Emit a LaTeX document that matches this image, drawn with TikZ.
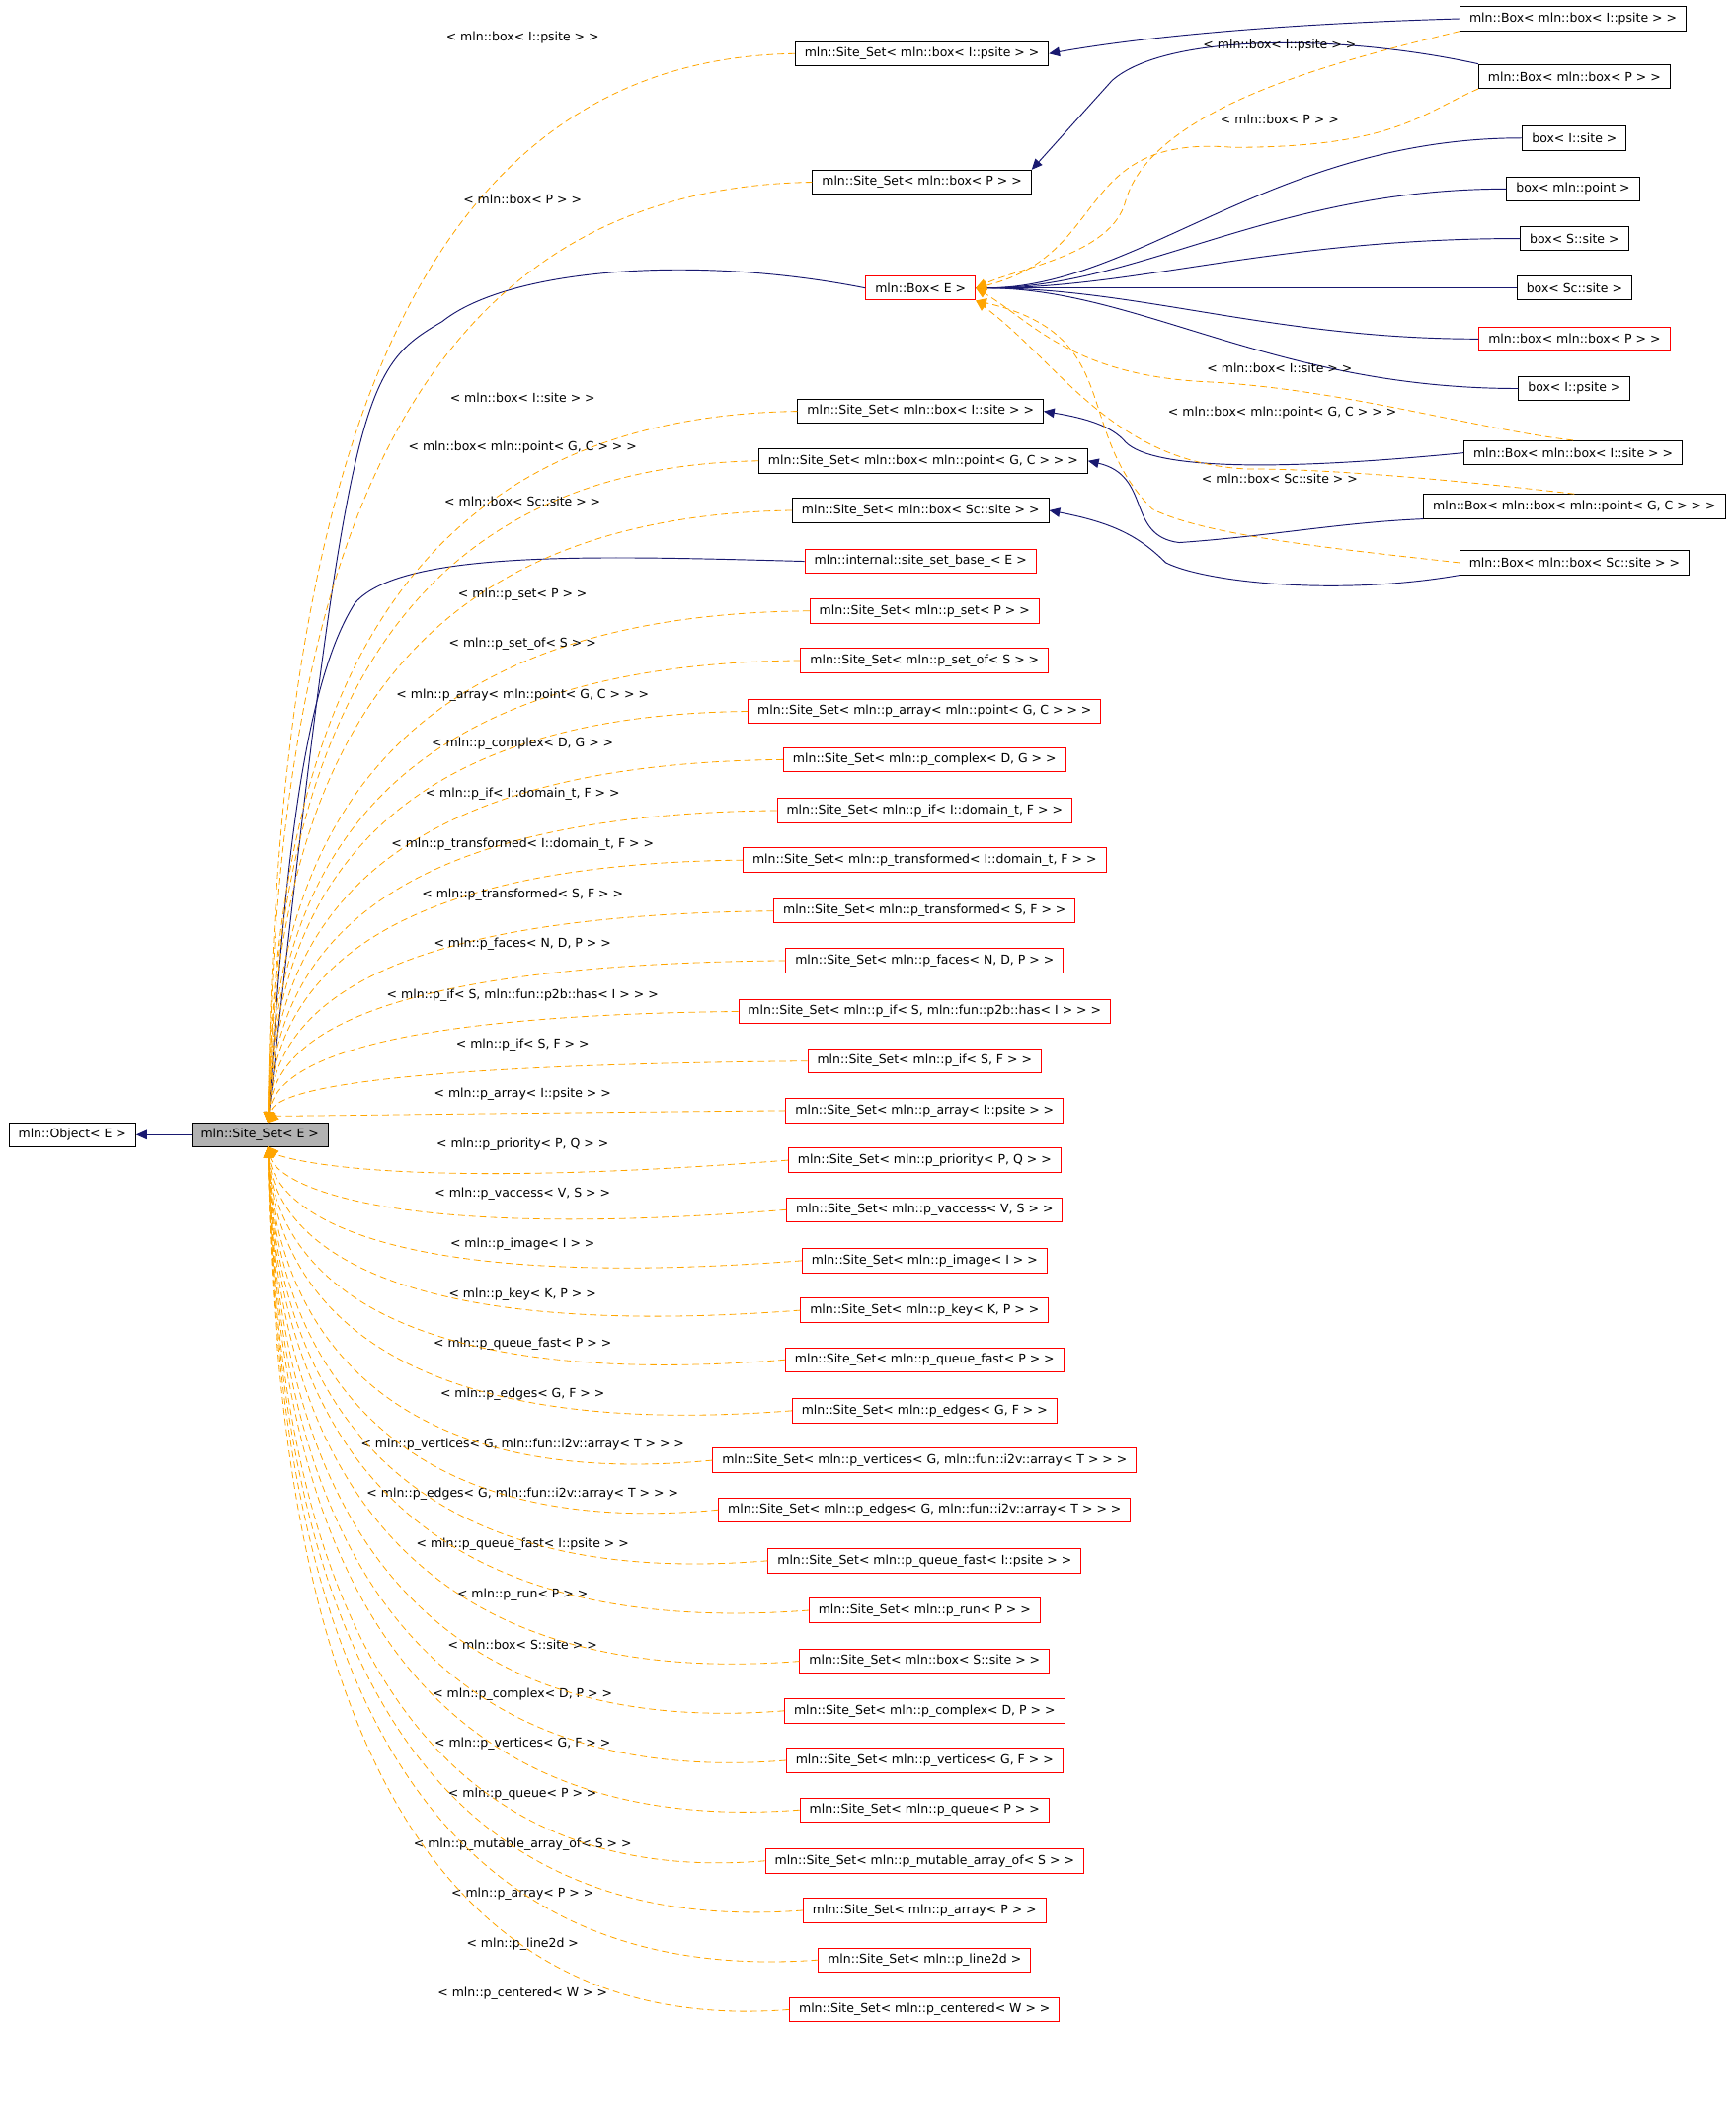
\documentclass[tikz,border=0pt]{standalone}
\usepackage{fontspec}
\setmainfont{DejaVu Sans}
\usetikzlibrary{arrows.meta}
\definecolor{navy}{RGB}{25,25,112}
\definecolor{orng}{RGB}{255,165,0}
\begin{document}
\begin{tikzpicture}[x=1pt,y=-1pt,
  bx/.style={draw=black,line width=0.7pt,inner xsep=7pt,minimum height=18pt,font=\fontsize{9.2}{10}\selectfont},
  rbx/.style={bx,draw=red},
  lab/.style={font=\fontsize{9.2}{10}\selectfont,inner sep=1pt},
  inh/.style={draw=navy,line width=0.7pt,-{Triangle[length=8pt,width=7pt]}},
  dep/.style={draw=orng,line width=0.6pt,dash pattern=on 5pt off 3pt,-{Triangle[length=8pt,width=7pt]}}]
\useasboundingbox (0,0) rectangle (1295,1569);
\node[bx] (obj) at (54,847) {mln::Object< E >};
\node[bx,fill=black!30] (ss) at (194,847) {mln::Site\_Set< E >};
\draw[inh] (ss) -- (obj);
% upper left column
\node[bx] (sbip) at (688,40) {mln::Site\_Set< mln::box< I::psite > >};
\node[bx] (sbp) at (688,136) {mln::Site\_Set< mln::box< P > >};
\node[rbx] (boxe) at (687,215) {mln::Box< E >};
\node[bx] (sbis) at (687,307) {mln::Site\_Set< mln::box< I::site > >};
\node[bx] (sbpt) at (689,344) {mln::Site\_Set< mln::box< mln::point< G, C > > >};
\node[bx] (sbsc) at (687,381) {mln::Site\_Set< mln::box< Sc::site > >};
\node[rbx] (ssb) at (687,419) {mln::internal::site\_set\_base\_< E >};
% right column
\node[bx] (Bbip) at (1174,14) {mln::Box< mln::box< I::psite > >};
\node[bx] (Bbp) at (1175,57) {mln::Box< mln::box< P > >};
\node[bx] (bis) at (1175,103) {box< I::site >};
\node[bx] (bpt) at (1174,141) {box< mln::point >};
\node[bx] (bs) at (1175,178) {box< S::site >};
\node[bx] (bsc) at (1175,215) {box< Sc::site >};
\node[rbx] (mbbp) at (1175,253) {mln::box< mln::box< P > >};
\node[bx] (bip) at (1175,290) {box< I::psite >};
\node[bx] (Bbis) at (1174,338) {mln::Box< mln::box< I::site > >};
\node[bx] (Bbpt) at (1175,378) {mln::Box< mln::box< mln::point< G, C > > >};
\node[bx] (Bbsc) at (1175,420) {mln::Box< mln::box< Sc::site > >};
% solid to Box<E>
\foreach \n/\yy in {bis/103,bpt/141,bs/178,bsc/215,mbbp/253,bip/290}{
  \draw[inh] (\n.west) .. controls (950,\yy) and (850,215) .. (boxe.east);
}
% right side solid
\draw[inh] (Bbip.west) .. controls (950,18) and (850,28) .. (sbip.east);
\draw[inh] (Bbp.north west) .. controls (1000,25) and (870,25) .. (830,60) -- (sbp.north east);
\draw[inh] (Bbis.west) .. controls (950,352) and (860,350) .. (840,330) .. controls (830,318) and (810,312) .. (sbis.east);
\draw[inh] (Bbpt.south west) .. controls (1000,390) and (950,400) .. (880,405) .. controls (840,400) and (860,355) .. (sbpt.east);
\draw[inh] (Bbsc.south west) .. controls (1000,445) and (900,435) .. (870,420) .. controls (850,400) and (830,390) .. (sbsc.east);
% right side dashed to Box<E>
\draw[dep] (Bbip.south west) .. controls (1000,45) and (860,80) .. (840,150) .. controls (830,190) and (760,200) .. (boxe.east);
\draw[dep] (Bbp.south west) .. controls (1060,85) and (1040,110) .. (920,110) .. controls (800,100) and (830,190) .. (boxe.east);
\draw[dep] (Bbis.north) .. controls (1100,320) and (1000,290) .. (900,285) .. controls (800,280) and (770,240) .. (boxe.east);
\draw[dep] (Bbpt.north) .. controls (1100,360) and (1000,350) .. (930,350) .. controls (830,345) and (790,270) .. (boxe.south east);
\draw[dep] (Bbsc.west) .. controls (1000,410) and (900,400) .. (860,380) .. controls (800,320) and (840,250) .. (boxe.south east);
\node[lab] at (955,34) {< mln::box< I::psite > >};
\node[lab] at (955,89) {< mln::box< P > >};
\node[lab] at (955,275) {< mln::box< I::site > >};
\node[lab] at (957,308) {< mln::box< mln::point< G, C > > >};
\node[lab] at (955,357) {< mln::box< Sc::site > >};
% solid into Site_Set<E>
\draw[inh] (boxe.west) .. controls (520,190) and (380,200) .. (330,240) .. controls (270,275) and (260,290) .. (200,838);
\draw[inh] (ssb.west) .. controls (450,415) and (300,410) .. (265,450) .. controls (220,520) and (210,700) .. (200,838);
% upper dashed
\foreach \n/\yy/\ly/\lt in {sbip/40/28/{< mln::box< I::psite > >},sbp/136/149/{< mln::box< P > >},sbis/307/297/{< mln::box< I::site > >},sbpt/344/334/{< mln::box< mln::point< G, C > > >},sbsc/381/374/{< mln::box< Sc::site > >}}{
  \pgfmathsetmacro\cy{\yy+0.5*(838-\yy)}
  \draw[dep] (\n.west) .. controls (270,\yy+5) and (205,\cy) .. (200,838);
  \node[lab] at (390,\ly) {\lt};
}
% list of red boxes
\foreach \i/\yy/\t/\lt in {
 a/456/{mln::p\_set< P >},
 b/493/{mln::p\_set\_of< S >},
 c/531/{mln::p\_array< mln::point< G, C > >},
 d/567/{mln::p\_complex< D, G >},
 e/605/{mln::p\_if< I::domain\_t, F >},
 f/642/{mln::p\_transformed< I::domain\_t, F >},
 g/680/{mln::p\_transformed< S, F >},
 h/717/{mln::p\_faces< N, D, P >},
 i/755/{mln::p\_if< S, mln::fun::p2b::has< I > >},
 j/792/{mln::p\_if< S, F >},
 k/829/{mln::p\_array< I::psite >},
 l/866/{mln::p\_priority< P, Q >},
 m/903/{mln::p\_vaccess< V, S >},
 n/941/{mln::p\_image< I >},
 o/978/{mln::p\_key< K, P >},
 p/1015/{mln::p\_queue\_fast< P >},
 q/1053/{mln::p\_edges< G, F >},
 r/1090/{mln::p\_vertices< G, mln::fun::i2v::array< T > >},
 s/1127/{mln::p\_edges< G, mln::fun::i2v::array< T > >},
 t/1165/{mln::p\_queue\_fast< I::psite >},
 u/1202/{mln::p\_run< P >},
 v/1240/{mln::box< S::site >},
 w/1277/{mln::p\_complex< D, P >},
 x/1314/{mln::p\_vertices< G, F >},
 y/1351/{mln::p\_queue< P >},
 z/1389/{mln::p\_mutable\_array\_of< S >},
 aa/1426/{mln::p\_array< P >},
 ab/1463/{mln::p\_line2d},
 ac/1500/{mln::p\_centered< W >}}{
  \node[rbx] (L\i) at (690,\yy) {mln::Site\_Set< \t\ >};
  \node[lab] at (390,\yy-12) {< \t\ >};
  \pgfmathsetmacro\above{\yy<847?1:0}
  \ifdim\above pt>0.5pt
    \pgfmathsetmacro\cy{\yy+0.5*(838-\yy)}
    \draw[dep] (L\i.west) .. controls (270,\yy+3) and (205,\cy) .. (200,838);
  \else
    \pgfmathsetmacro\cy{\yy-0.5*(\yy-856)}
    \draw[dep] (L\i.west) .. controls (270,\yy+25) and (205,\cy) .. (200,856);
  \fi
}
\end{tikzpicture}
\end{document}
